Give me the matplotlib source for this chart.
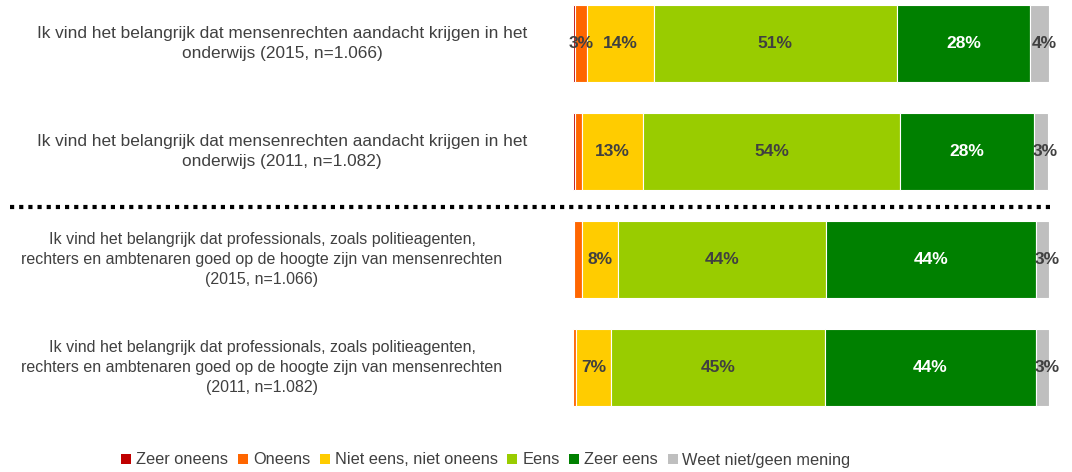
import matplotlib
matplotlib.use("Agg")
from matplotlib import pyplot as plt
from matplotlib.lines import Line2D
from matplotlib.patches import Patch
from matplotlib.transforms import blended_transform_factory

plt.rcParams['font.family'] = ['Liberation Sans', 'DejaVu Sans']

questions = [
    "Ik vind het belangrijk dat mensenrechten aandacht krijgen in het\nonderwijs (2015, n=1.066)",
    "Ik vind het belangrijk dat mensenrechten aandacht krijgen in het\nonderwijs (2011, n=1.082)",
    "Ik vind het belangrijk dat professionals, zoals politieagenten,\nrechters en ambtenaren goed op de hoogte zijn van mensenrechten\n(2015, n=1.066)",
    "Ik vind het belangrijk dat professionals, zoals politieagenten,\nrechters en ambtenaren goed op de hoogte zijn van mensenrechten\n(2011, n=1.082)",
]
categories = ["Zeer oneens", "Oneens", "Niet eens, niet oneens", "Eens", "Zeer eens", "Weet niet/geen mening"]
colors = ["#C00000", "#FF6600", "#FFCC00", "#99CC00", "#008000", "#BFBFBF"]
label_colors = ["white", "#404040", "#404040", "#404040", "white", "#404040"]

zeer_oneens = [0.5, 0.5, 0.2, 0.1]
oneens = [2.5, 1.3, 1.6, 0.6]
niet_eens = [14, 13, 7.6, 7.2]
eens = [51, 54, 43.8, 45]
zeer_eens = [28, 28, 44, 44.3]
weet_niet = [4, 3, 2.9, 2.8]
series = [zeer_oneens, oneens, niet_eens, eens, zeer_eens, weet_niet]

# labels as printed on the chart (None = no label)
labels = [
    [None, "3%", "14%", "51%", "28%", "4%"],
    [None, None, "13%", "54%", "28%", "3%"],
    [None, None, "8%", "44%", "44%", "3%"],
    [None, None, "7%", "45%", "44%", "3%"],
]

W, H = 1072, 472
fig = plt.figure(figsize=(W / 100, H / 100), dpi=100)
ax = fig.add_axes([573 / W, 1 - 430 / H, 476 / W, 430 / H])

ypos = list(range(len(questions)))
left = [0.0] * len(questions)
for i, vals in enumerate(series):
    ax.barh(ypos, vals, left=left, height=0.71, color=colors[i],
            edgecolor="white", linewidth=0.8)
    # small labels spill past the right end, like the original
    shift = 1.0 if i == len(series) - 1 else 0.0
    for r in ypos:
        if labels[r][i]:
            ax.text(left[r] + vals[r] / 2 + shift, r, labels[r][i], ha="center", va="center",
                    fontsize=12.5, fontweight="bold", color=label_colors[i])
    left = [a + b for a, b in zip(left, vals)]

ax.set_xlim(0, 100)
ax.set_ylim(3.579, -0.403)
ax.axis("off")

tr = blended_transform_factory(fig.transFigure, ax.transData)
text_x = [282, 282, 262, 262]
text_size = [12.4, 12.4, 11.5, 11.5]
for r, q in enumerate(questions):
    ax.text(text_x[r] / W, r, q, transform=tr, ha="center", va="center",
            fontsize=text_size[r], color="#404040", linespacing=1.45)

fig.add_artist(Line2D([10 / W, 1055 / W], [1 - 207 / H, 1 - 207 / H],
                      transform=fig.transFigure, color="black",
                      linewidth=3, linestyle=(0, (1, 1.2))))

handles = [Patch(facecolor=c, edgecolor="none") for c in colors]
fig.legend(handles, categories, loc="center", bbox_to_anchor=(486 / W, 1 - 460 / H),
           ncol=6, frameon=False, fontsize=11.8, handlelength=0.6, handleheight=0.6,
           handletextpad=0.3, columnspacing=0.6, labelcolor="#404040")

fig.savefig("out.png", dpi=100)
